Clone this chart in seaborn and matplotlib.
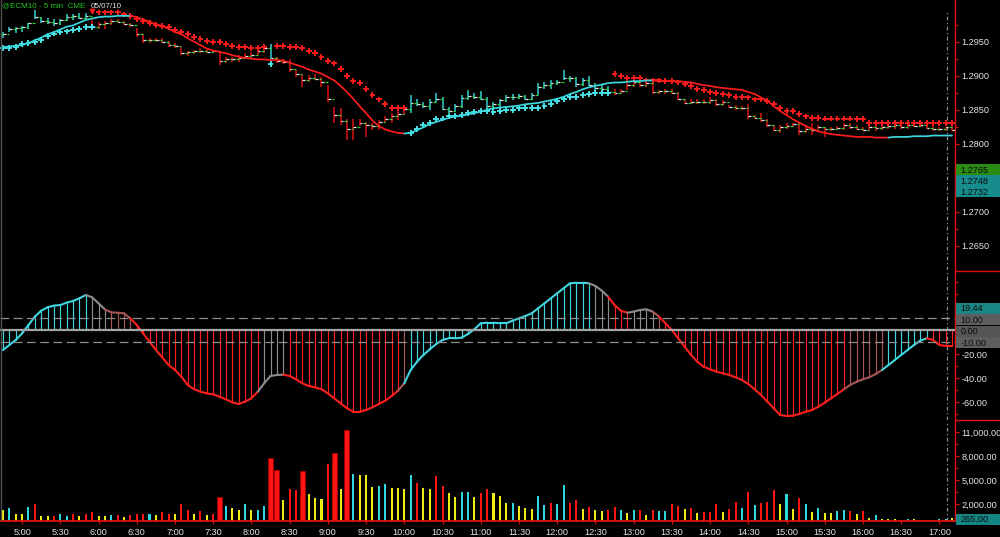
import numpy as np
import pandas as pd
import matplotlib
matplotlib.use("Agg")
import matplotlib.pyplot as plt
import seaborn as sns
from matplotlib.collections import LineCollection
from matplotlib.patches import Rectangle
from matplotlib.lines import Line2D
import matplotlib.ticker as mticker

# ---------------- data (5-min bars, 4:45 .. 17:10) ----------------
high = [1.2964, 1.2972, 1.2972, 1.2973, 1.2978, 1.2996, 1.2986, 1.2985, 1.2983, 1.2984,
        1.2990, 1.2990, 1.2992, 1.2992, 1.2982, 1.2979, 1.2981, 1.2984, 1.2984, 1.2981,
        1.2978, 1.2970, 1.2962, 1.2956, 1.2955, 1.2955, 1.2951, 1.2948, 1.2942, 1.2937,
        1.2938, 1.2941, 1.2940, 1.2938, 1.2937, 1.2927, 1.2928, 1.2930, 1.2933, 1.2935,
        1.2940, 1.2942, 1.2947, 1.2928, 1.2925, 1.2925, 1.2908, 1.2903, 1.2901, 1.2903,
        1.2898, 1.2886, 1.2854, 1.2852, 1.2837, 1.2837, 1.2837, 1.2832, 1.2830, 1.2835,
        1.2840, 1.2845, 1.2848, 1.2854, 1.2871, 1.2866, 1.2862, 1.2865, 1.2874, 1.2869,
        1.2854, 1.2859, 1.2871, 1.2879, 1.2874, 1.2878, 1.2869, 1.2862, 1.2866, 1.2871,
        1.2873, 1.2873, 1.2871, 1.2874, 1.2889, 1.2891, 1.2893, 1.2893, 1.2908, 1.2899,
        1.2898, 1.2897, 1.2899, 1.2889, 1.2888, 1.2885, 1.2880, 1.2880, 1.2889, 1.2893,
        1.2891, 1.2893, 1.2889, 1.2879, 1.2880, 1.2880, 1.2876, 1.2866, 1.2865, 1.2866,
        1.2866, 1.2869, 1.2866, 1.2864, 1.2857, 1.2857, 1.2855, 1.2858, 1.2842, 1.2845,
        1.2837, 1.2827, 1.2827, 1.2830, 1.2831, 1.2830, 1.2827, 1.2830, 1.2827, 1.2825,
        1.2825, 1.2826, 1.2831, 1.2830, 1.2827, 1.2825, 1.2827, 1.2827, 1.2827, 1.2829,
        1.2830, 1.2827, 1.2830, 1.2831, 1.2831, 1.2827, 1.2826, 1.2825, 1.2825, 1.2827]
low = [1.2956, 1.2964, 1.2963, 1.2964, 1.2969, 1.2984, 1.2978, 1.2976, 1.2973, 1.2974,
       1.2981, 1.2982, 1.2983, 1.2984, 1.2968, 1.2969, 1.2969, 1.2974, 1.2977, 1.2974,
       1.2972, 1.2957, 1.2948, 1.2948, 1.2950, 1.2948, 1.2942, 1.2941, 1.2930, 1.2929,
       1.2932, 1.2934, 1.2933, 1.2933, 1.2915, 1.2919, 1.2920, 1.2920, 1.2924, 1.2925,
       1.2930, 1.2933, 1.2925, 1.2918, 1.2917, 1.2906, 1.2898, 1.2884, 1.2891, 1.2893,
       1.2884, 1.2862, 1.2830, 1.2827, 1.2805, 1.2805, 1.2826, 1.2810, 1.2820, 1.2820,
       1.2830, 1.2831, 1.2835, 1.2842, 1.2845, 1.2855, 1.2852, 1.2849, 1.2862, 1.2849,
       1.2842, 1.2847, 1.2852, 1.2864, 1.2866, 1.2864, 1.2852, 1.2849, 1.2854, 1.2862,
       1.2864, 1.2865, 1.2864, 1.2864, 1.2871, 1.2881, 1.2881, 1.2886, 1.2893, 1.2891,
       1.2884, 1.2885, 1.2885, 1.2879, 1.2876, 1.2873, 1.2871, 1.2873, 1.2879, 1.2883,
       1.2883, 1.2884, 1.2873, 1.2873, 1.2873, 1.2873, 1.2864, 1.2858, 1.2858, 1.2859,
       1.2859, 1.2859, 1.2855, 1.2855, 1.2852, 1.2850, 1.2850, 1.2837, 1.2836, 1.2832,
       1.2825, 1.2818, 1.2816, 1.2822, 1.2825, 1.2813, 1.2815, 1.2813, 1.2818, 1.2810,
       1.2819, 1.2820, 1.2820, 1.2822, 1.2820, 1.2818, 1.2819, 1.2818, 1.2820, 1.2821,
       1.2822, 1.2822, 1.2822, 1.2824, 1.2825, 1.2822, 1.2819, 1.2818, 1.2819, 1.2818]
close = [1.2962, 1.2969, 1.2970, 1.2971, 1.2977, 1.2986, 1.2980, 1.2979, 1.2978, 1.2982,
         1.2986, 1.2988, 1.2985, 1.2988, 1.2971, 1.2976, 1.2978, 1.2980, 1.2979, 1.2976,
         1.2974, 1.2962, 1.2953, 1.2952, 1.2953, 1.2950, 1.2945, 1.2944, 1.2934, 1.2935,
         1.2936, 1.2937, 1.2935, 1.2936, 1.2921, 1.2924, 1.2925, 1.2926, 1.2929, 1.2931,
         1.2936, 1.2940, 1.2926, 1.2921, 1.2920, 1.2910, 1.2903, 1.2893, 1.2896, 1.2895,
         1.2890, 1.2865, 1.2842, 1.2833, 1.2822, 1.2825, 1.2830, 1.2828, 1.2826, 1.2832,
         1.2836, 1.2840, 1.2844, 1.2851, 1.2860, 1.2858, 1.2855, 1.2862, 1.2866, 1.2851,
         1.2848, 1.2856, 1.2867, 1.2870, 1.2869, 1.2866, 1.2855, 1.2859, 1.2864, 1.2869,
         1.2868, 1.2870, 1.2866, 1.2872, 1.2884, 1.2886, 1.2889, 1.2890, 1.2896, 1.2896,
         1.2888, 1.2894, 1.2887, 1.2882, 1.2880, 1.2876, 1.2875, 1.2878, 1.2886, 1.2890,
         1.2886, 1.2889, 1.2876, 1.2877, 1.2878, 1.2875, 1.2866, 1.2860, 1.2862, 1.2861,
         1.2862, 1.2864, 1.2858, 1.2862, 1.2854, 1.2853, 1.2853, 1.2840, 1.2838, 1.2835,
         1.2828, 1.2820, 1.2824, 1.2826, 1.2829, 1.2818, 1.2822, 1.2820, 1.2824, 1.2821,
         1.2822, 1.2823, 1.2827, 1.2825, 1.2822, 1.2820, 1.2824, 1.2823, 1.2824, 1.2826,
         1.2827, 1.2825, 1.2828, 1.2826, 1.2827, 1.2823, 1.2821, 1.2822, 1.2824, 1.2820]
stop = [1.2941, 1.2941, 1.2942, 1.2946, 1.2948, 1.2950, 1.2953, 1.2958, 1.2962, 1.2964,
        1.2965, 1.2967, 1.2969, 1.2971, 1.2972, 1.2993, 1.2993, 1.2993, 1.2993, 1.2990,
        1.2988, 1.2983, 1.2981, 1.2977, 1.2975, 1.2973, 1.2971, 1.2967, 1.2964, 1.2961,
        1.2957, 1.2954, 1.2951, 1.2950, 1.2950, 1.2946, 1.2944, 1.2942, 1.2942, 1.2941,
        1.2941, 1.2942, 1.2917, 1.2944, 1.2944, 1.2942, 1.2942, 1.2941, 1.2936, 1.2934,
        1.2928, 1.2922, 1.2918, 1.2910, 1.2899, 1.2892, 1.2889, 1.2880, 1.2871, 1.2865,
        1.2859, 1.2853, 1.2853, 1.2853, 1.2816, 1.2821, 1.2827, 1.2831, 1.2836, 1.2837,
        1.2840, 1.2841, 1.2842, 1.2845, 1.2846, 1.2848, 1.2848, 1.2847, 1.2848, 1.2849,
        1.2850, 1.2852, 1.2852, 1.2852, 1.2852, 1.2855, 1.2858, 1.2863, 1.2865, 1.2869,
        1.2869, 1.2871, 1.2873, 1.2875, 1.2875, 1.2875, 1.2902, 1.2899, 1.2897, 1.2897,
        1.2896, 1.2893, 1.2893, 1.2893, 1.2892, 1.2892, 1.2890, 1.2888, 1.2885, 1.2881,
        1.2879, 1.2876, 1.2875, 1.2873, 1.2872, 1.2869, 1.2869, 1.2868, 1.2865, 1.2865,
        1.2863, 1.2858, 1.2852, 1.2848, 1.2848, 1.2844, 1.2840, 1.2838, 1.2838, 1.2837,
        1.2837, 1.2837, 1.2837, 1.2837, 1.2836, 1.2836, 1.2831, 1.2831, 1.2831, 1.2831,
        1.2831, 1.2831, 1.2831, 1.2831, 1.2831, 1.2831, 1.2831, 1.2831, 1.2831, 1.2831]
ma = [1.2942, 1.2943, 1.2944, 1.2945, 1.2948, 1.2952, 1.2956, 1.2961, 1.2964, 1.2968,
      1.2972, 1.2974, 1.2978, 1.2982, 1.2984, 1.2986, 1.2987, 1.2987, 1.2988, 1.2988,
      1.2988, 1.2986, 1.2983, 1.2979, 1.2976, 1.2973, 1.2969, 1.2964, 1.2961, 1.2955,
      1.2950, 1.2945, 1.2940, 1.2937, 1.2935, 1.2933, 1.2930, 1.2928, 1.2926, 1.2925,
      1.2924, 1.2924, 1.2923, 1.2923, 1.2922, 1.2919, 1.2916, 1.2913, 1.2909, 1.2906,
      1.2903, 1.2898, 1.2893, 1.2885, 1.2876, 1.2866, 1.2855, 1.2845, 1.2834, 1.2826,
      1.2821, 1.2818, 1.2816, 1.2815, 1.2816, 1.2820, 1.2824, 1.2829, 1.2832, 1.2835,
      1.2838, 1.2840, 1.2841, 1.2843, 1.2845, 1.2847, 1.2850, 1.2852, 1.2853, 1.2854,
      1.2855, 1.2856, 1.2858, 1.2859, 1.2860, 1.2862, 1.2864, 1.2866, 1.2869, 1.2873,
      1.2876, 1.2880, 1.2883, 1.2885, 1.2887, 1.2889, 1.2890, 1.2890, 1.2891, 1.2892,
      1.2892, 1.2893, 1.2893, 1.2892, 1.2892, 1.2892, 1.2892, 1.2891, 1.2890, 1.2888,
      1.2886, 1.2885, 1.2883, 1.2882, 1.2881, 1.2880, 1.2879, 1.2876, 1.2873, 1.2868,
      1.2863, 1.2855, 1.2848, 1.2842, 1.2836, 1.2831, 1.2826, 1.2822, 1.2818, 1.2816,
      1.2814, 1.2813, 1.2812, 1.2811, 1.2810, 1.2810, 1.2810, 1.2809, 1.2809, 1.2809,
      1.2810, 1.2810, 1.2810, 1.2811, 1.2811, 1.2811, 1.2812, 1.2812, 1.2812, 1.2812]
signal_idx = [14]
signal_price = [1.2995]

osc = [-16.7, -12.5, -8.3, -2.8, 4.2, 11.1, 16.1, 18.9, 20.3, 20.8,
       22.8, 24.2, 26.4, 29.2, 27.2, 22.2, 17.2, 14.7, 14.4, 13.9,
       9.7, 4.2, -2.8, -9.7, -16.7, -22.8, -29.2, -33.3, -38.9, -45.8,
       -49.4, -51.4, -52.8, -53.6, -55.6, -57.8, -60.3, -61.7, -59.7, -56.9,
       -51.4, -44.4, -38.3, -37.5, -37.2, -38.3, -41.1, -44.4, -46.7, -47.8,
       -49.4, -52.8, -56.9, -61.1, -65.3, -68.1, -68.1, -66.7, -64.4, -61.7,
       -58.9, -55.0, -50.6, -44.4, -33.3, -26.4, -20.8, -16.1, -11.7, -8.3,
       -6.9, -6.9, -6.4, -3.3, 0.6, 5.6, 6.1, 6.1, 5.6, 5.6,
       7.8, 9.7, 11.7, 13.9, 18.1, 22.2, 26.4, 30.6, 34.7, 38.9,
       39.4, 39.4, 38.9, 36.7, 32.8, 27.8, 20.8, 16.1, 14.4, 15.3,
       16.7, 17.2, 15.3, 11.1, 5.6, 0.0, -6.9, -13.9, -20.8, -26.4,
       -30.6, -32.8, -34.7, -36.1, -37.5, -39.4, -41.7, -45.0, -49.4, -54.2,
       -59.7, -65.3, -70.8, -71.7, -71.4, -70.0, -68.1, -66.7, -63.9, -60.6,
       -56.9, -53.3, -49.4, -45.8, -43.1, -41.1, -39.4, -36.7, -33.3, -29.2,
       -25.0, -20.8, -16.7, -12.5, -8.9, -6.9, -8.3, -12.5, -13.3, -13.3]
osc_col = ("cccccccccccccc" "ggg" "bbbb" "rrrrrrrrrrrrrrrrrrrr" "gggg"
           "rrrrrrrrrrrrrrrrrr" "b" "ccccccccccccccccccccccccccccc" "ggg" "rrr"
           "gggg" "b" "rrrrrrrrrrrrrrrrrrrrrrrrrrrrr" "bbbbbb" "ccccccc" "rrrr")

vol = [1333, 1583, 833, 750, 1667, 2000, 500, 500, 542, 750,
       583, 833, 500, 750, 1042, 542, 542, 667, 667, 375,
       667, 750, 833, 833, 625, 1042, 833, 750, 2000, 1250,
       750, 1167, 625, 750, 2917, 1833, 1583, 1333, 2083, 1333,
       1333, 1750, 7833, 6333, 2500, 3958, 3750, 6125, 3333, 2792,
       2667, 7000, 8458, 3875, 11333, 5750, 5625, 5625, 4167, 4250,
       4583, 4083, 4083, 3875, 5625, 4667, 4042, 3958, 5542, 4250,
       3458, 2875, 3542, 3542, 2958, 3458, 3958, 3375, 3000, 2167,
       2167, 1750, 1583, 1375, 3000, 1875, 2167, 2000, 4375, 2167,
       2500, 1417, 1667, 1250, 1125, 1333, 1667, 1250, 917, 1250,
       1333, 625, 1333, 1125, 1167, 2000, 1833, 1458, 1542, 917,
       1042, 1000, 2083, 1000, 1458, 2292, 1583, 3500, 1875, 2167,
       2292, 3750, 2083, 3250, 1417, 2750, 2000, 1083, 1583, 958,
       917, 1167, 1250, 1167, 750, 1167, 292, 667, 167, 125,
       125, 83, 167, 125, 83, 83, 83, 167, 208, 265]
vol_col = ("ycyycryyrc" "cryrryycry" "rrrcyrryrr" "yryrrcyycy" "ccrryrrryy"
           "yrryrcyyyc" "cyyycryyrr" "yyccyrryyy" "cyyyccrccr" "ryryyrrcyc"
           "ryrccrryry" "rrryrrcrcr" "rrycyrcycy" "yccryrycyy" "yrcyrrrccy")
vol_thick = [34, 42, 43, 47, 52, 54]

time_labels = ["5:00", "5:30", "6:00", "6:30", "7:00", "7:30", "8:00", "8:30", "9:00",
               "9:30", "10:00", "10:30", "11:00", "11:30", "12:00", "12:30", "13:00",
               "13:30", "14:00", "14:30", "15:00", "15:30", "16:00", "16:30", "17:00"]
time_label_bar = [3, 9, 15, 21, 27, 33, 39, 45, 51, 57, 63, 69, 75, 81, 87, 93, 99,
                  105, 111, 117, 123, 129, 135, 141, 147]

price_ticks = [1.2650, 1.2700, 1.2800, 1.2850, 1.2900, 1.2950]
price_minor = [1.2675, 1.2725, 1.2825, 1.2875, 1.2925, 1.2975]
osc_ticks = [-60, -40, -20]
vol_ticks = [2000, 5000, 8000, 11000]
price_boxes = [("1.2765", "#2b8c14"), ("1.2748", "#168c8c"), ("1.2732", "#168c8c")]
osc_boxes = [("19.44", "#1a8585"), ("10.00", "#5e5e5e"), ("0.00", "#555555"), ("-10.00", "#5e5e5e")]
last_volume_box = "265.00"
current_bar = 148.15

# ---------------- style ----------------
sns.set_theme(style="dark", rc={"axes.facecolor": "black", "figure.facecolor": "black",
                                "savefig.facecolor": "black"})
plt.rcParams["font.family"] = ["Liberation Sans", "DejaVu Sans"]

CYAN = "#3cd8e0"
RED = "#ff1c1c"
BAR_UP = "#30c8c8"
BAR_DN = "#d41010"
OSCC = {"c": "#40d6e0", "r": "#ff1e1e", "g": "#8c8c8c", "b": "#a65656"}
VOLC = {"y": "#eeee12", "c": "#2ed8e0", "r": "#ff1414"}
LBL = "#e4e4e4"
AXRED = "#e01010"

W, H = 1000, 537
fig = plt.figure(figsize=(W / 100, H / 100), dpi=100, facecolor="black")


def frect(x0, y0, x1, y1):
    return [x0 / W, 1 - y1 / H, (x1 - x0) / W, (y1 - y0) / H]


def fpt(x, y):
    return x / W, 1 - y / H


n = len(high)
idx = np.arange(n)
XL = (-0.47, 149.45)

ax_p = fig.add_axes(frect(0, 0, 955, 270))
ax_o = fig.add_axes(frect(0, 271, 955, 420))
ax_v = fig.add_axes(frect(0, 421, 955, 520.5))
for ax in (ax_p, ax_o, ax_v):
    ax.set_facecolor("black")
    ax.set_xlim(*XL)
    for s in ax.spines.values():
        s.set_visible(False)
    ax.spines["right"].set_visible(True)
    ax.spines["right"].set_color(AXRED)
    ax.spines["right"].set_linewidth(1.0)
    ax.yaxis.tick_right()
    ax.tick_params(axis="y", which="both", colors=AXRED, labelcolor=LBL,
                   labelsize=6.6, pad=1.8, width=0.8)
    ax.tick_params(axis="y", which="major", length=3)
    ax.tick_params(axis="y", which="minor", length=2)
    ax.tick_params(axis="x", bottom=False, labelbottom=False)
    ax.grid(False)

# ---------------- price panel ----------------
high_a, low_a, close_a = np.array(high), np.array(low), np.array(close)
stop_a, ma_a = np.array(stop), np.array(ma)
open_a = np.r_[close_a[0], close_a[:-1]]
bar_up = close_a > stop_a
bar_colors = [BAR_UP if u else BAR_DN for u in bar_up]

ax_p.set_ylim(1.261426, 1.301132)
ax_p.vlines(idx, low_a, high_a, colors=bar_colors, lw=1.15, zorder=2)
ax_p.hlines(open_a, idx - 0.42, idx, colors="#2fcf2f", lw=0.9, zorder=2)
ax_p.hlines(close_a, idx, idx + 0.42, colors="#e8e8e8", lw=0.9, zorder=2)

stop_side = np.where(stop_a < (high_a + low_a) / 2, "up", "dn")
sdf = pd.DataFrame({"i": idx, "stop": stop_a, "side": stop_side})
sns.scatterplot(data=sdf, x="i", y="stop", hue="side", palette={"up": "#48e6ea", "dn": RED},
                marker="+", s=18, linewidth=1.35, legend=False, ax=ax_p, zorder=3)

# moving average coloured by slope
seg_col = []
prev = CYAN
for k in range(n - 1):
    d = ma_a[k + 1] - ma_a[k]
    c = CYAN if d > 0 else (RED if d < 0 else prev)
    seg_col.append(c)
    prev = c
start = 0
for k in range(1, n):
    if k == n - 1 or seg_col[k] != seg_col[start]:
        seg = pd.DataFrame({"i": idx[start:k + 1], "ma": ma_a[start:k + 1]})
        sns.lineplot(data=seg, x="i", y="ma", color=seg_col[start], lw=1.25, ax=ax_p,
                     legend=False, zorder=4)
        start = k
ax_p.plot(signal_idx, signal_price, linestyle="none", marker="v", ms=3.2, color=RED, zorder=4)

ax_p.set_yticks(price_ticks)
ax_p.yaxis.set_major_formatter(mticker.FormatStrFormatter("%.4f"))
ax_p.yaxis.set_minor_locator(mticker.FixedLocator(price_minor))
ax_p.axvline(current_bar, ymin=0, ymax=1 - 10 / 270, color="#8a8a8a", lw=0.9,
             linestyle=(0, (3, 2, 1, 2)), zorder=1)
ax_p.set_xlabel("")
ax_p.set_ylabel("")

# ---------------- oscillator panel ----------------
osc_a = np.array(osc)
ax_o.set_ylim(-75, 49.17)
ax_o.vlines(idx, 0, osc_a, colors=[OSCC[c] for c in osc_col], lw=0.85, zorder=2)
pts = np.column_stack([idx, osc_a])
segs = np.stack([pts[:-1], pts[1:]], axis=1)
ax_o.add_collection(LineCollection(segs, colors=[OSCC[c] for c in osc_col[1:]],
                                   linewidths=1.5, zorder=3, capstyle="round"))
ax_o.axhline(0, color="#a4a4a4", lw=1.6, zorder=4)
for lvl in (10, -10):
    ax_o.axhline(lvl, color="#8e8e8e", lw=0.9, dashes=(7, 3.6), zorder=5)
ax_o.set_yticks(osc_ticks)
ax_o.yaxis.set_major_formatter(mticker.FormatStrFormatter("%.2f"))
ax_o.yaxis.set_minor_locator(mticker.FixedLocator([-70, -50, -30, 30, 40]))
ax_o.axvline(current_bar, color="#8a8a8a", lw=0.9, linestyle=(0, (3, 2, 1, 2)), zorder=1)

# ---------------- volume panel ----------------
ax_v.set_ylim(0, 12400)
widths = [0.78 if i in vol_thick else 0.32 for i in idx]
edges = ["#a00000" if i in vol_thick else "none" for i in idx]
ax_v.bar(idx, vol, width=widths, color=[VOLC[c] for c in vol_col], edgecolor=edges,
         linewidth=0.7, zorder=2)
ax_v.axhline(0, color=AXRED, lw=1.3, zorder=3, clip_on=False)
ax_v.set_yticks(vol_ticks)
ax_v.yaxis.set_major_formatter(mticker.StrMethodFormatter("{x:,.2f}"))
ax_v.yaxis.set_minor_locator(mticker.FixedLocator([3500, 6500, 9500]))
ax_v.set_xticks(time_label_bar)
ax_v.set_xticklabels(time_labels)
ax_v.tick_params(axis="x", bottom=True, labelbottom=True, colors=AXRED, labelcolor=LBL,
                 length=2, width=0.8, labelsize=6.6, pad=3.5)
ax_v.axvline(current_bar, color="#8a8a8a", lw=0.9, linestyle=(0, (3, 2, 1, 2)), zorder=1)

# ---------------- decorations (frame, boxes, title) ----------------
def hline_px(x0, x1, y, color, lw=1.0):
    fig.add_artist(Line2D([x0 / W, x1 / W], [1 - y / H, 1 - y / H], color=color, lw=lw,
                          transform=fig.transFigure))


def box_px(x0, y0, x1, y1, fc, text, tc="#0c0c0c"):
    fig.add_artist(Rectangle(fpt(x0, y1), (x1 - x0) / W, (y1 - y0) / H, facecolor=fc,
                             edgecolor="none", transform=fig.transFigure, zorder=5))
    fig.text(*fpt(x0 + 5, (y0 + y1) / 2 + 0.5), text, color=tc, fontsize=6.6,
             ha="left", va="center", zorder=6)


hline_px(955, 1000, 270.5, AXRED)
hline_px(955, 1000, 419.5, AXRED)
fig.add_artist(Line2D([1 / W, 1 / W], [1 - 520 / H, 1], color="#505050", lw=1.0,
                      transform=fig.transFigure))

py = [164, 175.5, 186.5, 197]
for k, (t, c) in enumerate(price_boxes):
    box_px(955.5, py[k], 1000, py[k + 1], c, t)
oy = [302.5, 314, 325.5, 337, 348.5]
for k, (t, c) in enumerate(osc_boxes):
    box_px(955.5, oy[k] + 0.4, 1000, oy[k + 1] - 0.4, c, t)
box_px(955.5, 513.5, 1000, 524.5, "#138585", last_volume_box)

fig.text(*fpt(2, 6), "@ECM10 - 5 min  CME", color="#22c422", fontsize=5.8, ha="left", va="center")
fig.text(*fpt(91, 6), "05/07/10", color="#e8e8e8", fontsize=5.8, ha="left", va="center")

fig.savefig("out.png", dpi=100, facecolor="black")
